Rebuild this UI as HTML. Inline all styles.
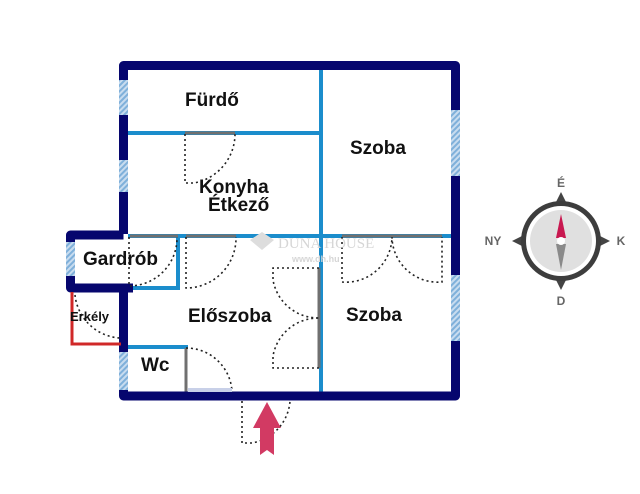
<!DOCTYPE html>
<html><head><meta charset="utf-8"><style>body{margin:0;background:#fff}svg{display:block}</style></head><body>
<svg width="640" height="494" viewBox="0 0 640 494" xmlns="http://www.w3.org/2000/svg" font-family="Liberation Sans, DejaVu Sans, sans-serif">
<defs>
<pattern id="h" width="4" height="4" patternUnits="userSpaceOnUse" patternTransform="rotate(45)"><rect width="4" height="4" fill="#c8dcef"/><rect width="2" height="4" fill="#7fb0da"/></pattern>
</defs>
<rect width="640" height="494" fill="#fff"/>
<g stroke="#1b8dcc" stroke-width="4" fill="none">
<line x1="321" y1="69" x2="321" y2="392"/>
<line x1="128" y1="133" x2="321" y2="133"/>
<line x1="128" y1="236" x2="451" y2="236"/>
<line x1="178" y1="238" x2="178" y2="290"/>
<line x1="128" y1="288" x2="180" y2="288"/>
<line x1="128" y1="347" x2="188" y2="347"/>
</g>
<g stroke="#707070" stroke-width="3">
<line x1="186" y1="348" x2="186" y2="392"/>
<line x1="185" y1="133" x2="235" y2="133"/>
<line x1="130" y1="236" x2="178" y2="236"/>
<line x1="186" y1="236" x2="236" y2="236"/>
<line x1="342" y1="236" x2="442" y2="236"/>
<line x1="319" y1="268" x2="319" y2="368"/>
<line x1="122" y1="292" x2="122" y2="342"/>
<line x1="242" y1="399" x2="290" y2="399"/>
</g>
<g stroke="#06066e" stroke-width="9" fill="none" stroke-linejoin="round">
<path d="M123.5 234 V65.5 H455.5 V396 H123.5 V288"/>
<path d="M123.5 235 H70.5 V288 H133"/>
</g>
<g fill="url(#h)">
<rect x="119" y="80" width="9" height="35"/>
<rect x="119" y="160" width="9" height="32"/>
<rect x="451" y="110" width="9" height="66"/>
<rect x="451" y="275" width="9" height="66"/>
<rect x="66" y="242" width="9" height="34"/>
<rect x="119" y="352" width="9" height="38"/>
</g>
<path d="M72 292 V344 H121" stroke="#d02828" stroke-width="3" fill="none"/>
<g stroke="#222" stroke-width="1.6" stroke-dasharray="2,3" fill="none">
<path d="M185 134 V183 H194 A50 50 0 0 0 235 134"/>
<path d="M129 237 V286 A48 48 0 0 0 177 237"/>
<path d="M186 237 V288 A50 50 0 0 0 236 237"/>
<path d="M342 237 V282 A46 46 0 0 0 392 237 A46 46 0 0 0 442 282 V237"/>
<path d="M319 268 H273 V280 A46 46 0 0 0 319 318"/>
<path d="M319 368 H273 V356 A46 46 0 0 1 319 318"/>
<path d="M75 295 A48 48 0 0 0 120 338"/>
<path d="M186 348 A46 46 0 0 1 232 392"/>
<path d="M242 401 V443 H252 A46 46 0 0 0 290 401"/>
</g>
<rect x="188" y="388" width="44" height="4" fill="#c8d0e8"/>
<path d="M250 240 L262 232 L274 240 L262 250 Z" fill="#ddd"/>
<text x="278" y="248" font-family="Liberation Serif, serif" font-size="15" fill="#d6d6d6">DUNA HOUSE</text>
<text x="292" y="262" font-size="9" fill="#d6d6d6" font-weight="bold">www.dh.hu</text>
<g font-weight="bold" fill="#111" font-size="19">
<text x="185" y="106">Fürdő</text>
<text x="350" y="154">Szoba</text>
<text x="199" y="193">Konyha</text>
<text x="208" y="211">Étkező</text>
<text x="83" y="265">Gardrób</text>
<text x="70" y="321" font-size="13">Erkély</text>
<text x="188" y="322">Előszoba</text>
<text x="346" y="321">Szoba</text>
<text x="141" y="371">Wc</text>
</g>
<path d="M267 402 L281 428 H274 V455 L267 450 L260 455 V428 H253 Z" fill="#d23a63"/>
<g>
<polygon points="561,192 571,212 551,212" fill="#444"/>
<polygon points="561,290 571,270 551,270" fill="#444"/>
<polygon points="512,241 532,231 532,251" fill="#444"/>
<polygon points="610,241 590,231 590,251" fill="#444"/>
<circle cx="561" cy="241" r="40" fill="#3d3d3d"/>
<circle cx="561" cy="241" r="35" fill="#fff"/>
<circle cx="561" cy="241" r="31" fill="#e0e0e0"/>
<polygon points="561,214 566,238 556,238" fill="#c81850"/>
<polygon points="561,270 566,244 556,244" fill="#8a8a8a"/>
<circle cx="561" cy="241" r="4" fill="#fff"/>
<g font-weight="bold" fill="#666" font-size="12" text-anchor="middle">
<text x="561" y="187">É</text>
<text x="561" y="305">D</text>
<text x="493" y="245">NY</text>
<text x="621" y="245">K</text>
</g>
</g>
</svg>
</body></html>
